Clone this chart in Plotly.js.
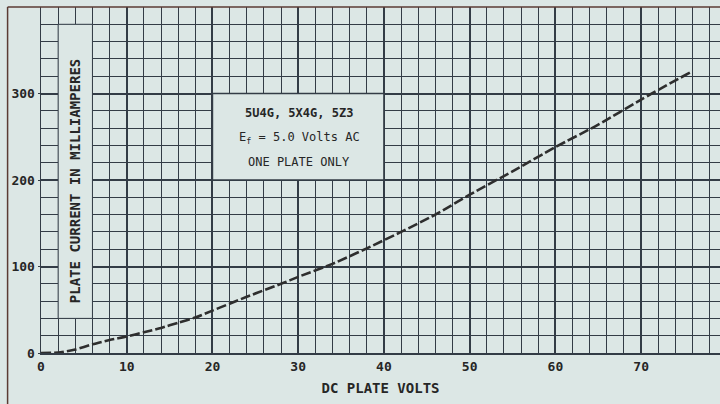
<!DOCTYPE html>
<html><head><meta charset="utf-8">
<script src="https://cdn.plot.ly/plotly-3.0.1.min.js"></script>
<style>html,body{margin:0;padding:0;background:#dce7e5}</style>
</head><body><div id="chart" style="width:720px;height:404px"></div>
<script>
// Data (DC plate volts vs plate current, mA)
const plateVolts   = [0, 2, 4, 6, 8, 10, 12, 14, 16, 18, 20, 22, 24, 28, 30, 34, 38, 42, 46, 50, 55, 60, 65, 70, 76];
const plateCurrent = [0, 0.5, 4, 10, 15, 19, 24, 29, 35, 41, 49, 57, 65, 80, 88, 103, 121, 140, 160, 183, 210, 238, 264, 293, 326];
const xTickVals = [0, 10, 20, 30, 40, 50, 60, 70];
const xTickText = ['0', '10', '20', '30', '40', '50', '60', '70'];
const yTickVals = [0, 100, 200, 300];
const yTickText = ['0', '100', '200', '300'];
const boxLines  = ['5U4G, 5X4G, 5Z3', 'E<sub>f</sub> = 5.0 Volts AC', 'ONE PLATE ONLY'];
const xTitle = 'DC PLATE VOLTS';
const yTitle = 'PLATE CURRENT IN MILLIAMPERES';

const BG = '#dce7e5';
const GRID = '#333c46';
const INK = '#262626';
const FONT = 'DejaVu Sans Mono';

const trace = {
  x: plateVolts, y: plateCurrent, type: 'scatter', mode: 'lines',
  line: {color: '#2e2e2e', width: 2.6, dash: '10px,3px', shape: 'spline', smoothing: 0.6},
  hoverinfo: 'skip', showlegend: false
};

const boxY = [278, 249, 221];
const annotations = boxLines.map((t, i) => ({
  x: 30.1, y: boxY[i], xref: 'x', yref: 'y', text: t, showarrow: false,
  font: {family: FONT, size: 12, color: INK, weight: i === 0 ? 'bold' : 'normal'},
  xanchor: 'center', yanchor: 'middle'
}));
annotations.push({
  x: 4, y: 199, xref: 'x', yref: 'y', text: yTitle, showarrow: false, textangle: -90,
  font: {family: FONT, size: 14, color: INK, weight: 'bold'}, xanchor: 'center', yanchor: 'middle'
});

const layout = {
  width: 720, height: 404,
  margin: {l: 41, r: 0, t: 7, b: 51, pad: 0},
  paper_bgcolor: BG, plot_bgcolor: BG,
  showlegend: false,
  xaxis: {
    range: [0, 79.2], fixedrange: true,
    tickvals: xTickVals, ticktext: xTickText, ticks: '',
    tickfont: {family: FONT, size: 13, color: INK, weight: 'bold'},
    showgrid: true, gridcolor: GRID, gridwidth: 2,
    minor: {dtick: 2, showgrid: true, gridcolor: GRID, gridwidth: 1},
    showline: true, linecolor: GRID, linewidth: 2, zeroline: false,
    title: {text: xTitle, font: {family: FONT, size: 14, color: INK, weight: 'bold'}, standoff: 11}
  },
  yaxis: {
    range: [0, 400], fixedrange: true,
    tickvals: yTickVals, ticktext: yTickText, ticks: 'outside', ticklen: 2, tickcolor: GRID,
    tickfont: {family: FONT, size: 13, color: INK, weight: 'bold'},
    showgrid: true, gridcolor: GRID, gridwidth: 2,
    minor: {dtick: 20, showgrid: true, gridcolor: GRID, gridwidth: 1},
    showline: true, linecolor: GRID, linewidth: 1.5, zeroline: false
  },
  shapes: [
    // blank strip for the y-axis title
    {type: 'rect', xref: 'x', yref: 'y', x0: 2, x1: 6, y0: 40, y1: 380,
     fillcolor: BG, line: {color: GRID, width: 1}, layer: 'above'},
    // blank box for the tube legend
    {type: 'rect', xref: 'x', yref: 'y', x0: 20, x1: 40, y0: 200, y1: 300,
     fillcolor: BG, line: {color: GRID, width: 1.5}, layer: 'above'},
    // outer frame of the scanned page
    {type: 'line', xref: 'paper', yref: 'paper', x0: -0.0492, x1: -0.0492, y0: -0.2, y1: 1.0,
     line: {color: '#5b3b33', width: 1.5}},
    {type: 'line', xref: 'paper', yref: 'paper', x0: -0.0492, x1: 1, y0: 1.0, y1: 1.0,
     line: {color: '#5b3b33', width: 1.5}}
  ],
  annotations: annotations
};

Plotly.newPlot('chart', [trace], layout, {displayModeBar: false, staticPlot: true});
</script></body></html>
